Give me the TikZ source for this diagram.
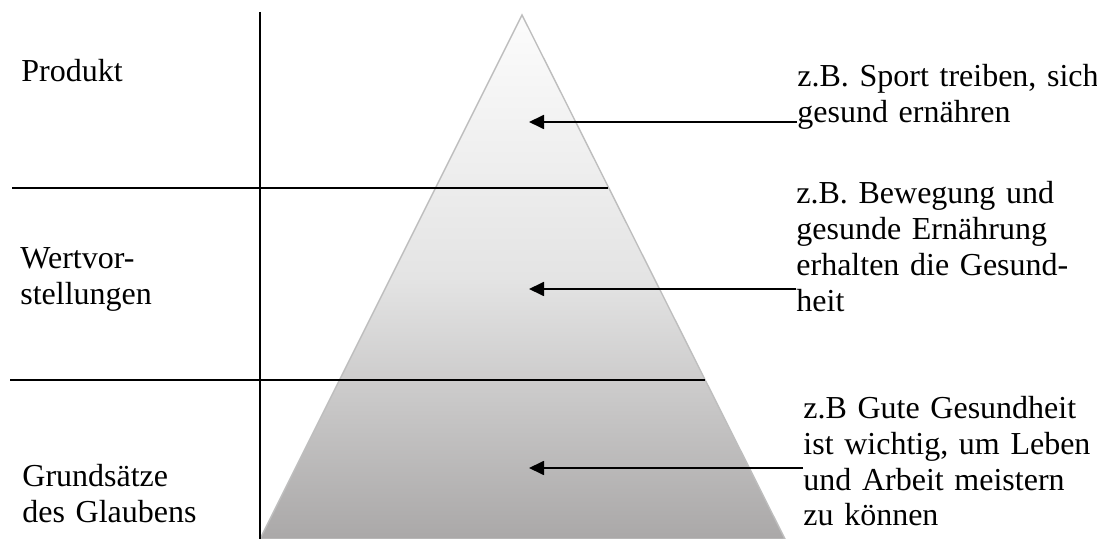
\documentclass[tikz,border=0pt]{standalone}
\usepackage{fontspec}
\setmainfont{Liberation Serif}
\usepackage{tikz}
\usetikzlibrary{arrows.meta,positioning}

\definecolor{pyoben}{RGB}{252,252,252}
\definecolor{pymitte}{RGB}{228,228,228}
\definecolor{pyunten}{RGB}{170,168,168}
\definecolor{pyrand}{RGB}{190,190,190}

\begin{document}
\frenchspacing
\begin{tikzpicture}[x=0.5pt,y=-0.5pt,
				txt/.style={inner sep=0pt, anchor=base west, align=left,
                text width=160pt, font=\fontsize{16}{18}\selectfont},
				pfeil/.style={line width=0.9pt, black, -{Triangle[length=7.5pt,width=7pt]}},
				linie/.style={line width=0.9pt, black},
				% Pyramid with grey gradient
				pyramide/.style={draw=pyrand, line width=0.7pt,
                top color=pyoben, bottom color=pyunten, middle color=pymitte}
				]
\useasboundingbox (0,0) rectangle (1097,539);

%% Pyramid
\path[pyramide] (522,15) -- (785,539) -- (260,539) -- cycle;

%% Dividing lines
\draw[linie] (260,12) -- (260,539);
\draw[linie] (12,188) -- (608,188);
\draw[linie] (10,380) -- (705,380);

%% Left labels
\node[txt] (produkt) at (21,82) {Produkt};
\node[txt] (wert) at (20,269) {Wertvor-\\stellungen};
\node[txt] (grund) at (22,486) {Grundsätze\\des Glaubens};

%% Examples on the right
\node[txt] (bsp1) at (797,87) {z.B. Sport treiben, sich\\gesund ernähren};
\node[txt] (bsp2) at (796,204) {z.B. Bewegung und\\gesunde Ernährung\\erhalten die Gesund-\\heit};
\node[txt] (bsp3) at (803,418) {z.B Gute Gesundheit\\ist wichtig, um Leben\\und Arbeit meistern\\zu können};

%% Arrow tips inside the pyramid
\coordinate (spitze1) at (529,122);
\coordinate (spitze2) at (529,289);
\coordinate (spitze3) at (529,468);

\draw[pfeil] (bsp1.west |- spitze1) -- (spitze1);
\draw[pfeil] (bsp2.west |- spitze2) -- (spitze2);
\draw[pfeil] (bsp3.west |- spitze3) -- (spitze3);

\end{tikzpicture}
\end{document}
